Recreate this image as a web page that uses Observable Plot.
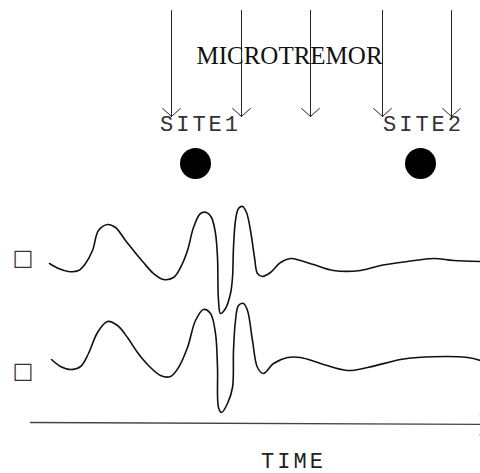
<!DOCTYPE html>
<html>
<head>
<meta charset="utf-8">
<script src="https://cdn.jsdelivr.net/npm/d3@7"></script>
<script src="https://cdn.jsdelivr.net/npm/@observablehq/plot@0.6"></script>
<style>
  html, body { margin: 0; padding: 0; background: #fff; }
  [font-family="Liberation Mono"] { letter-spacing: 3px; }
</style>
</head>
<body>
<div id="chart"></div>
<script>
// ---- data (schematic units: time along x, position along y) ----
const wave1Time = [49,58,68,78,85,92,98,107,115,125,133,143,153,163,173,180,187,193,200,206,211,215,217,218,220,225,230,232,233,235,238,242,246,250,254,257,262,270,280,290,300,313,333,360,380,407,433,453,480];
const wave1Val  = [263,268,271,270,263,250,230,224,227,240,250,262,273,279,277,267,250,227,213,212,217,233,257,300,313,308,293,277,247,220,208,206,212,230,257,273,276,272,262,258,260,264,270,270,265,261,258,260,261];

const wave2Time = [51,60,70,80,88,97,107,117,127,137,148,160,170,178,187,195,203,210,215,217,218,221,227,232,233,235,238,243,247,252,257,263,273,287,300,320,347,367,400,417,467,480];
const wave2Val  = [359,366,369,366,353,332,321,325,337,352,365,375,376,367,347,320,309,313,333,367,407,412,403,387,350,320,305,303,310,340,367,373,363,357,357,363,370,367,359,357,357,360];

const arrowX = [171, 241, 310, 382, 451];
const arrowTop = 10, arrowTip = 116;

const siteNames = ["SITE1", "SITE2"];
const siteX = [195, 420];
const siteLabelX = [200, 423];
const siteDotY = 163, siteLabelY = 130;

const traceMarkY = [257, 370];
const traceMarkLabel = ["\u25A1", "\u25A1"];

const titleText = "MICROTREMOR";
const titleX = 289, titleY = 63;
const timeLabel = "TIME";
const timeX = 293, timeY = 467;
const axisStart = [30, 422], axisEnd = [489, 424];

// ---- build tables ----
const waves = [
  ...wave1Time.map((t, i) => ({trace: "1", t, v: wave1Val[i]})),
  ...wave2Time.map((t, i) => ({trace: "2", t, v: wave2Val[i]}))
];
const arrows = arrowX.map(x => ({x, y1: arrowTop, y2: arrowTip}));
const sites = siteNames.map((name, i) => ({name, x: siteX[i], lx: siteLabelX[i]}));

const chart = Plot.plot({
  width: 480,
  height: 473,
  margin: 0,
  x: {domain: [0, 480], axis: null},
  y: {domain: [0, 473], reverse: true, axis: null},
  marks: [
    Plot.arrow(arrows, {x: "x", y1: "y1", y2: "y2", stroke: "#222", strokeWidth: 1, headAngle: 96, headLength: 18}),
    Plot.text([titleText], {x: () => titleX, y: () => titleY, text: d => d, fontFamily: "Liberation Serif", fontSize: 25, fill: "#111", lineAnchor: "bottom"}),
    Plot.text(sites, {x: "lx", y: () => siteLabelY, text: "name", fontFamily: "Liberation Mono", fontSize: 22, fill: "#333", lineAnchor: "bottom"}),
    Plot.dot(sites, {x: "x", y: () => siteDotY, r: 15.5, fill: "#000", stroke: "none"}),
    Plot.text(traceMarkLabel, {x: () => 22.5, y: (d, i) => traceMarkY[i], text: d => d, fontFamily: "DejaVu Sans", fontSize: 22, fill: "#333"}),
    Plot.line(waves, {x: "t", y: "v", z: "trace", curve: "catmull-rom", stroke: "#111", strokeWidth: 1.6}),
    Plot.arrow([{x1: axisStart[0], y1: axisStart[1], x2: axisEnd[0], y2: axisEnd[1]}], {x1: "x1", y1: "y1", x2: "x2", y2: "y2", stroke: "#444", strokeWidth: 1.3, headAngle: 96, headLength: 16}),
    Plot.text([timeLabel], {x: () => timeX, y: () => timeY, text: d => d, fontFamily: "Liberation Mono", fontSize: 22, fill: "#222", lineAnchor: "bottom"})
  ]
});
document.getElementById("chart").appendChild(chart);
</script>
</body>
</html>
